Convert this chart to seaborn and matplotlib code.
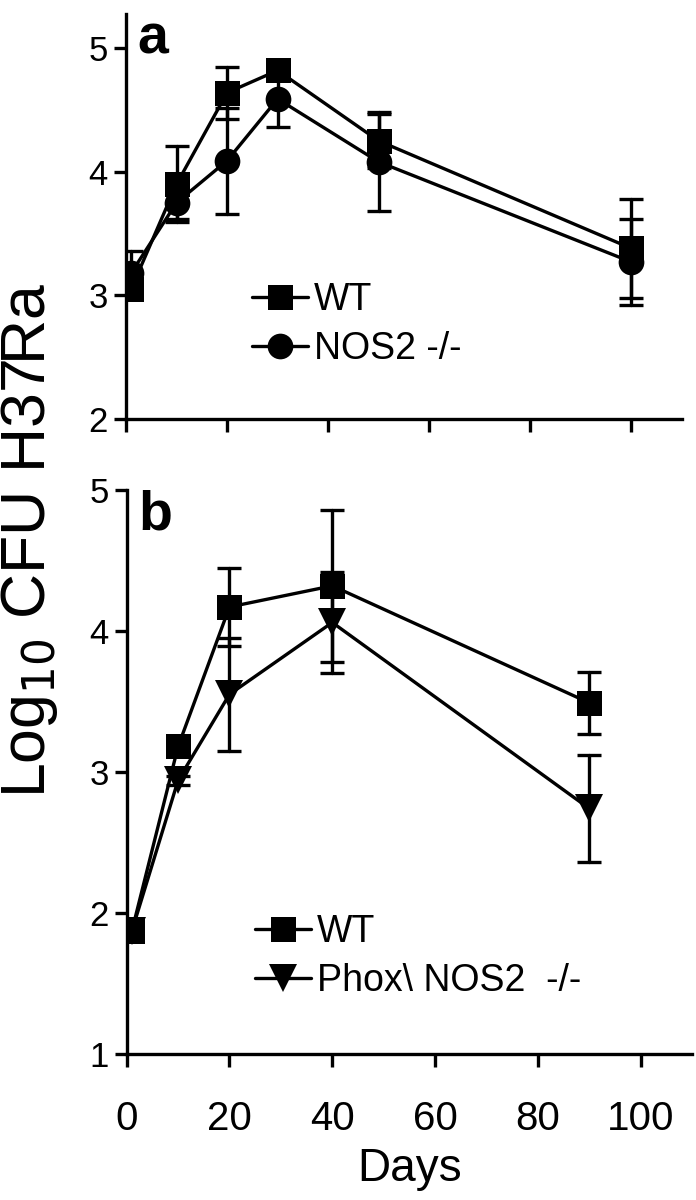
import numpy as np
import pandas as pd
import matplotlib
matplotlib.use("Agg")
import matplotlib.pyplot as plt
import seaborn as sns
from matplotlib.lines import Line2D

sns.set_theme(style="ticks")
plt.rcParams['font.family'] = ['Liberation Sans', 'DejaVu Sans']
plt.rcParams.update({"text.color": "black", "axes.labelcolor": "black",
                     "xtick.color": "black", "ytick.color": "black",
                     "axes.edgecolor": "black"})

# ---- panel a data ----
days_a = [1, 10, 20, 30, 50, 100]
wt_a = [3.05, 3.90, 4.64, 4.82, 4.25, 3.38]
wt_a_err = [0.08, 0.31, 0.21, 0.08, 0.22, 0.40]
nos2_a = [3.18, 3.75, 4.09, 4.59, 4.08, 3.27]
nos2_a_err = [0.18, 0.13, 0.43, 0.23, 0.40, 0.35]

# ---- panel b data ----
days_b = [1, 10, 20, 40, 90]
wt_b = [1.87, 3.18, 4.17, 4.32, 3.49]
wt_b_err = [0.02, 0.03, 0.28, 0.54, 0.22]
phox_b = [1.87, 2.94, 3.55, 4.06, 2.74]
phox_b_err = [0.02, 0.03, 0.40, 0.36, 0.38]

labels_a = ["WT", "NOS2 -/-"]
labels_b = ["WT", "Phox\\ NOS2  -/-"]
xticks = [0, 20, 40, 60, 80, 100]


def long_table(days, means, errs):
    rows = []
    for d, m, e in zip(days, means, errs):
        for v in (m - e, m, m + e):
            rows.append({"day": d, "val": v})
    return pd.DataFrame(rows)


LW = 2.4
MS_SQ, MS_CI, MS_TR = 18, 18.5, 20
fig = plt.figure(figsize=(6.96, 12), dpi=100)
ax_a = fig.add_axes([126 / 696, 1 - 419 / 1200, (682 - 126) / 696, (419 - 13.6) / 1200])
ax_b = fig.add_axes([126.7 / 696, 1 - 1053.7 / 1200, (692 - 126.7) / 696, (1053.7 - 490) / 1200])


def draw(ax, days, means, errs, marker, ms):
    df = long_table(days, means, errs)
    sns.lineplot(data=df, x="day", y="val", estimator="mean", errorbar=("pi", 100),
                 err_style="bars", color="black", linewidth=LW, marker=marker,
                 markersize=ms, markeredgewidth=0, ax=ax,
                 err_kws={"capsize": 8.5, "elinewidth": LW, "capthick": LW})


draw(ax_a, days_a, wt_a, wt_a_err, "s", MS_SQ)
draw(ax_a, days_a, nos2_a, nos2_a_err, "o", MS_CI)
draw(ax_b, days_b, wt_b, wt_b_err, "s", MS_SQ)
draw(ax_b, days_b, phox_b, phox_b_err, "v", MS_TR)

for ax in (ax_a, ax_b):
    sns.despine(ax=ax)
    ax.spines['left'].set_linewidth(LW)
    ax.spines['bottom'].set_linewidth(LW)
    ax.set_xlim(0, 110)
    ax.set_xticks(xticks)
    ax.tick_params(axis='x', length=9.5, width=LW, direction='out', labelsize=29, pad=24)
    ax.tick_params(axis='y', length=9, width=LW, direction='out', labelsize=25, pad=4)
    ax.set_xlabel("")
    ax.set_ylabel("")
    ax.set_facecolor("none")

ax_a.set_ylim(2, 5.28)
ax_a.set_yticks([2, 3, 4, 5])
ax_a.set_xticklabels([])
ax_b.set_ylim(1, 5)
ax_b.set_yticks([1, 2, 3, 4, 5])
ax_b.set_xlabel("Days", fontsize=33, labelpad=6)

h_a = [Line2D([], [], color='black', lw=LW, marker='s', markersize=MS_SQ, markeredgewidth=0),
       Line2D([], [], color='black', lw=LW, marker='o', markersize=MS_CI, markeredgewidth=0)]
h_b = [Line2D([], [], color='black', lw=LW, marker='s', markersize=MS_SQ, markeredgewidth=0),
       Line2D([], [], color='black', lw=LW, marker='v', markersize=MS_TR, markeredgewidth=0)]

ax_a.legend(h_a, labels_a, loc='upper left', bbox_to_anchor=(0.2, 0.375), frameon=False,
            fontsize=27, handlelength=1.5, handletextpad=0.15, labelspacing=0.35, borderaxespad=0)
ax_b.legend(h_b, labels_b, loc='upper left', bbox_to_anchor=(0.2, 0.275), frameon=False,
            fontsize=27, handlelength=1.5, handletextpad=0.15, labelspacing=0.35, borderaxespad=0)

ax_a.text(0.02, 1.0, "a", transform=ax_a.transAxes, fontsize=40, fontweight='bold', va='top', ha='left')
ax_b.text(0.02, 1.0, "b", transform=ax_b.transAxes, fontsize=40, fontweight='bold', va='top', ha='left')

fig.text(30 / 696, 1 - 540 / 1200, "Log$_{10}$ CFU H37Ra", rotation=90, fontsize=45,
         va='center', ha='center')

fig.savefig("out.png", dpi=100)
